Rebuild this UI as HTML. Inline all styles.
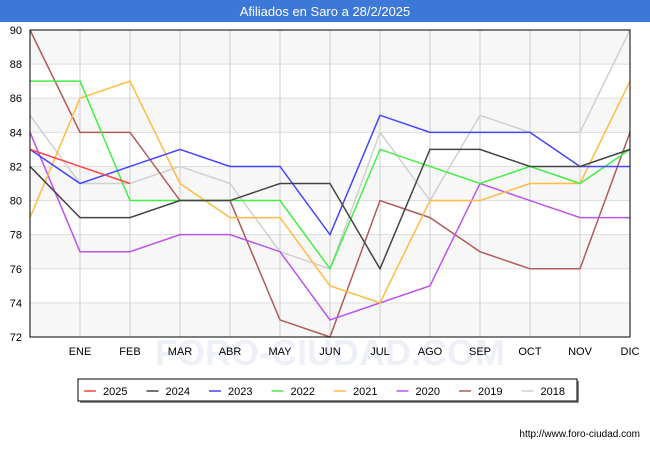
<!DOCTYPE html>
<html><head><meta charset="utf-8"><style>
body{margin:0;background:#fff;font-family:"Liberation Sans",sans-serif}
</style></head><body>
<svg id="c" width="650" height="450" xmlns="http://www.w3.org/2000/svg">
<rect x="0" y="0" width="650" height="22" fill="#3b78d8"/>
<text x="325" y="16" text-anchor="middle" fill="#fff" font-size="13">Afiliados en Saro a 28/2/2025</text>
<g id="bands"></g><g id="grid"></g>
<text x="330" y="365" text-anchor="middle" fill="#eef0f8" font-size="36" font-weight="bold">FORO-CIUDAD.COM</text>
<g id="series"></g>
<rect x="30" y="30" width="600" height="307" fill="none" stroke="#000"/>
<g id="axes"></g>
<rect x="80" y="381" width="499" height="22" fill="#888"/>
<rect x="78" y="379" width="499" height="22" fill="#fff" stroke="#000"/>
<g id="legend"></g>
<text x="640" y="437" text-anchor="end" font-size="10" fill="#000">http://www.foro-ciudad.com</text>
</svg>
<script>
const months=["","ENE","FEB","MAR","ABR","MAY","JUN","JUL","AGO","SEP","OCT","NOV","DIC"];
const yTicks=[72,74,76,78,80,82,84,86,88,90];
const seriesNames=["2025","2024","2023","2022","2021","2020","2019","2018"];
const colors=["#ff4444","#444444","#4444ff","#44ee44","#ffbb44","#bb55ee","#b05a5a","#d0d0d0"];
const s2025=[83,82,81];
const s2024=[82,79,79,80,80,81,81,76,83,83,82,82,83];
const s2023=[83,81,82,83,82,82,78,85,84,84,84,82,82];
const s2022=[87,87,80,80,80,80,76,83,82,81,82,81,83];
const s2021=[79,86,87,81,79,79,75,74,80,80,81,81,87];
const s2020=[84,77,77,78,78,77,73,74,75,81,80,79,79];
const s2019=[90,84,84,80,80,73,72,80,79,77,76,76,84];
const s2018=[85,81,81,82,81,77,76,84,80,85,84,84,90];
const data=[s2025,s2024,s2023,s2022,s2021,s2020,s2019,s2018];
const NS="http://www.w3.org/2000/svg";
const X=i=>30+i*50, Y=v=>30+(90-v)*307/18;
function mk(t,a,p){const e=document.createElementNS(NS,t);for(const k in a)e.setAttribute(k,a[k]);document.getElementById(p).appendChild(e);return e;}
for(let v=72;v<90;v+=4){const b=mk('rect',{x:30,y:Y(v+2),width:600,height:Y(v)-Y(v+2),fill:'#f7f7f7'},'bands');

}
yTicks.forEach(v=>{const l=mk('line',{x1:30,x2:630,y1:Y(v),y2:Y(v),stroke:'#ddd'},'grid');


const t=mk('text',{x:22,y:Y(v)+4,'text-anchor':'end','font-size':11},'axes');t.textContent=v;

});
months.forEach((m,i)=>{const l=mk('line',{x1:X(i),x2:X(i),y1:30,y2:337,stroke:'#ccc'},'grid');


if(m){const t=mk('text',{x:X(i),y:355,'text-anchor':'middle','font-size':11},'axes');t.textContent=m;

}});
for(let k=data.length-1;k>=0;k--){const p=mk('polyline',{points:data[k].map((v,i)=>X(i)+','+Y(v)).join(' '),fill:'none',stroke:colors[k],'stroke-width':1.5},'series');

}
seriesNames.forEach((n,k)=>{const x=84+k*62.5;
const l=mk('line',{x1:x,x2:x+12,y1:391,y2:391,stroke:colors[k],'stroke-width':1.5},'legend');


const t=mk('text',{x:x+19,y:395,'font-size':11},'legend');t.textContent=n;

});
</script>
</body></html>
